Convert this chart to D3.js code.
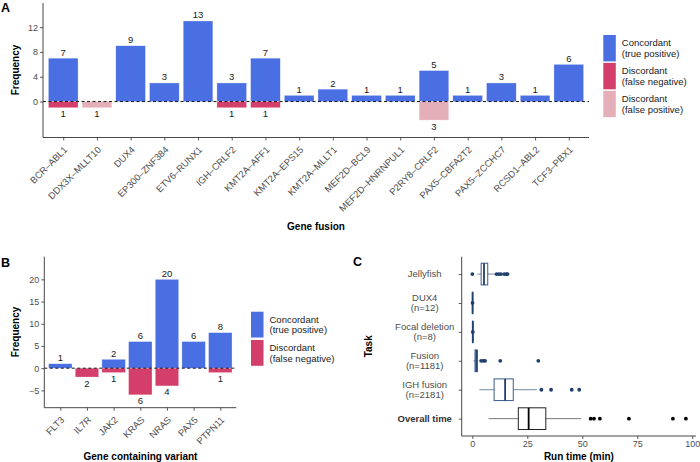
<!DOCTYPE html>
<html><head><meta charset="utf-8">
<script src="https://cdn.jsdelivr.net/npm/d3@7"></script>
<style>
body{margin:0;background:#fff;}
svg{display:block;font-family:"Liberation Sans",Arial,Helvetica,sans-serif;}
</style></head>
<body>
<svg id="chart" width="700" height="462"></svg>
<script>
// ---------- Data ----------
const fusionCats = ["BCR–ABL1","DDX3X–MLLT10","DUX4","EP300–ZNF384","ETV6–RUNX1","IGH–CRLF2","KMT2A–AFF1","KMT2A–EPS15","KMT2A–MLLT1","MEF2D–BCL9","MEF2D–HNRNPUL1","P2RY8–CRLF2","PAX5–CBFA2T2","PAX5–ZCCHC7","RCSD1–ABL2","TCF3–PBX1"];
const fusionTP = [7,0,9,3,13,3,7,1,2,1,1,5,1,3,1,6];
const fusionFN = [1,0,0,0,0,1,1,0,0,0,0,0,0,0,0,0];
const fusionFP = [0,1,0,0,0,0,0,0,0,0,0,3,0,0,0,0];
const fusionTicks = [0,4,8,12];

const variantCats = ["FLT3","IL7R","JAK2","KRAS","NRAS","PAX5","PTPN11"];
const variantTP = [1,0,2,6,20,6,8];
const variantFN = [0,2,1,6,4,0,1];
const variantTicks = [-5,0,5,10,15,20];

const tasks = ["Jellyfish","DUX4\n(n=12)","Focal deletion\n(n=8)","Fusion\n(n=1181)","IGH fusion\n(n=2181)","Overall time"];
const whiskLow  = [2.3, 0.0, 0.1, 0.5, 3.2, 7.4];
const q1        = [4.0, 0.05,0.1, 1.2, 9.9, 20.9];
const medians   = [5.3, 0.1, 0.2, 1.8, 14.9, 25.6];
const q3        = [7.0, 0.2, 0.3, 2.3, 18.6, 33.4];
const whiskHigh = [10.8,0.3, 0.4, 2.7, 29.3, 49.5];
const outliers  = [[0, 11, 12, 13, 14.5, 15.5, 16],[0.1],[0.2],[4.0,5.0,5.8,12.7,30.0],[31.4,35.8,45.2,48.6],[53.8,55.3,58.0,71.2,91.2,97.1]];
const runTicks = [0,25,50,75,100];

const seriesNamesA = [["Concordant","(true positive)"],["Discordant","(false negative)"],["Discordant","(false positive)"]];
const colTP = "#4A6FE3", colFN = "#D33F6A", colFP = "#E5AFBA";
const tickCol = "#4d4d4d", axisCol = "#333";

const svg = d3.select("#chart");

function panelLabel(t,x,y){
  svg.append("text").attr("x",x).attr("y",y).attr("font-size",12.5).attr("font-weight","bold").attr("fill","#000").text(t);
}
function yTitle(t,x,y){
  svg.append("text").attr("transform",`translate(${x},${y}) rotate(-90)`).attr("text-anchor","middle")
    .attr("font-size",10).attr("font-weight","bold").attr("fill","#000").text(t);
}
function xTitle(t,x,y){
  svg.append("text").attr("x",x).attr("y",y).attr("text-anchor","middle")
    .attr("font-size",10).attr("font-weight","bold").attr("fill","#000").text(t);
}
function styleAxis(g){
  g.select(".domain").attr("stroke",axisCol).attr("stroke-width",0.9);
  g.selectAll(".tick line").attr("stroke",axisCol).attr("stroke-width",0.8);
  g.selectAll(".tick text").attr("fill",tickCol).attr("font-size",9).attr("font-family","Liberation Sans, Arial, sans-serif");
}

function barPanel(opts){
  const {cats,tp,neg,negCols,ticks,x0,x1,y0,y1,dom,lab} = opts;
  const x = d3.scalePoint().domain(cats).range([x0,x1]).padding(0.6);
  const bw = x.step()*0.88;
  const y = d3.scaleLinear().domain(dom).range([y1,y0]);
  const g = svg.append("g");
  g.selectAll("rect.tp").data(cats).join("rect")
    .attr("x",d=>x(d)-bw/2).attr("width",bw)
    .attr("y",(d,i)=>y(tp[i])).attr("height",(d,i)=>y(0)-y(tp[i]))
    .attr("fill",colTP).attr("stroke","#fff").attr("stroke-width",0.5).attr("stroke-opacity",0.6);
  neg.forEach((arr,k)=>{
    g.selectAll("rect.n"+k).data(cats).join("rect")
      .attr("x",d=>x(d)-bw/2).attr("width",bw)
      .attr("y",y(0)).attr("height",(d,i)=>y(-arr[i])-y(0))
      .attr("fill",negCols[k]).attr("stroke","#fff").attr("stroke-width",0.5).attr("stroke-opacity",0.6);
  });
  g.selectAll("text.tpl").data(cats).join("text")
    .attr("x",d=>x(d)).attr("y",(d,i)=>y(tp[i])-2.5).attr("text-anchor","middle")
    .attr("font-size",9.5).attr("fill","#1a1a1a").text((d,i)=>tp[i]>0?tp[i]:"");
  neg.forEach((arr,k)=>{
    g.selectAll("text.nl"+k).data(cats).join("text")
      .attr("x",d=>x(d)).attr("y",(d,i)=>y(-arr[i])+9.5).attr("text-anchor","middle")
      .attr("font-size",9.5).attr("fill","#1a1a1a").text((d,i)=>arr[i]>0?arr[i]:"");
  });
  g.append("line").attr("x1",x0).attr("x2",x1).attr("y1",y(0)).attr("y2",y(0))
    .attr("stroke","#000").attr("stroke-width",0.9).attr("stroke-dasharray","3,2.5");
  const ya = svg.append("g").attr("transform",`translate(${x0},0)`)
    .call(d3.axisLeft(y).tickValues(ticks).tickSize(3).tickPadding(2).tickFormat(d=>d<0?"\u2212"+Math.abs(d):d));
  styleAxis(ya);
  const xa = svg.append("g").attr("transform",`translate(0,${y1})`)
    .call(d3.axisBottom(x).tickSize(3).tickFormat(""));
  styleAxis(xa);
  ya.select(".domain").attr("d",`M0,${y0}V${y1}`);
  xa.select(".domain").attr("d",`M${x0},0H${x1}`);
  svg.append("g").selectAll("text").data(cats).join("text")
    .attr("transform",d=>`translate(${x(d)+1.1},${y1+lab}) rotate(-45)`)
    .attr("text-anchor","end").attr("dy","0.55em")
    .attr("font-size",9.4).attr("fill",tickCol).text(d=>d);
  return {x,y};
}

function legend(items,cols,kx,ky,kh,gap){
  items.forEach((lines,i)=>{
    const top = ky + i*(kh+gap);
    svg.append("rect").attr("x",kx).attr("y",top).attr("width",12.5).attr("height",kh).attr("fill",cols[i]);
    lines.forEach((l,j)=>{
      svg.append("text").attr("x",kx+18.5).attr("y",top+kh/2+(j-0.5)*10.6+3.4)
        .attr("font-size",9.5).attr("fill","#1a1a1a").text(l);
    });
  });
}

// ---------- Panel A ----------
panelLabel("A",1,12);
barPanel({cats:fusionCats,tp:fusionTP,neg:[fusionFN,fusionFP],negCols:[colFN,colFP],ticks:fusionTicks,
  x0:43,x1:589,y0:3,y1:137.5,dom:[-5.8,15.9],lab:9.1});
yTitle("Frequency",18.5,70);
xTitle("Gene fusion",316,230);
legend(seriesNamesA,[colTP,colFN,colFP],603.3,35,26.4,1.5);

// ---------- Panel B ----------
panelLabel("B",1,267);
barPanel({cats:variantCats,tp:variantTP,neg:[variantFN],negCols:[colFN],ticks:variantTicks,
  x0:44.3,x1:236.3,y0:256.7,y1:407.7,dom:[-8.9,25.1],lab:9.1});
yTitle("Frequency",18.5,332);
xTitle("Gene containing variant",140.5,460);
legend(seriesNamesA.slice(0,2),[colTP,colFN],251,311.7,25.8,2.5);

// ---------- Panel C ----------
panelLabel("C",353,266);
(function(){
  const x0=461.7,x1=696,y0=256.7,y1=436;
  const x = d3.scaleLinear().domain([-4.84,101.7]).range([x0,x1]);
  const y = d3.scalePoint().domain(tasks).range([y0,y1]).padding(0.6);
  const bh = y.step()*0.75;
  const navy="#1f3f6e", navyBox="#3b5b88", navyW="#7188aa";
  tasks.forEach((t,i)=>{
    const last = i===tasks.length-1;
    const cBox = last?"#222":navyBox, cW = last?"#777":navyW, cMed = last?"#000":navy, cPt = last?"#000":navy;
    const cy = y(t);
    const g = svg.append("g");
    g.append("line").attr("x1",x(whiskLow[i])).attr("x2",x(q1[i])).attr("y1",cy).attr("y2",cy).attr("stroke",cW).attr("stroke-width",1);
    g.append("line").attr("x1",x(q3[i])).attr("x2",x(whiskHigh[i])).attr("y1",cy).attr("y2",cy).attr("stroke",cW).attr("stroke-width",1);
    g.append("rect").attr("x",x(q1[i])).attr("width",Math.max(0.1,x(q3[i])-x(q1[i])))
      .attr("y",cy-bh/2).attr("height",bh).attr("fill","#fff").attr("stroke",cBox).attr("stroke-width",1);
    g.append("line").attr("x1",x(medians[i])).attr("x2",x(medians[i])).attr("y1",cy-bh/2).attr("y2",cy+bh/2)
      .attr("stroke",cMed).attr("stroke-width",1.8);
    g.selectAll("circle").data(outliers[i]).join("circle")
      .attr("cx",d=>x(d)).attr("cy",cy).attr("r",1.9).attr("fill",cPt);
  });
  const xa = svg.append("g").attr("transform",`translate(0,${y1})`)
    .call(d3.axisBottom(x).tickValues(runTicks).tickSize(3).tickPadding(1.5));
  styleAxis(xa);
  xa.select(".domain").attr("d",`M${x0},0H${x1}`);
  const ya = svg.append("g").attr("transform",`translate(${x0},0)`)
    .call(d3.axisLeft(y).tickSize(3).tickFormat(""));
  styleAxis(ya);
  ya.select(".domain").attr("d",`M0,${y0}V${y1}`);
  tasks.forEach((t,i)=>{
    const lines = t.split("\n");
    const last = i===tasks.length-1;
    lines.forEach((l,j)=>{
      svg.append("text").attr("x",424.7).attr("y",y(t)+(j-(lines.length-1)/2)*10.2+3.3)
        .attr("text-anchor","middle").attr("font-size",9.5)
        .attr("font-weight",last?"bold":"normal").attr("fill",last?"#333":tickCol).text(l);
    });
  });
  yTitle("Task",371.5,346.3);
  xTitle("Run time (min)",578.9,460);
})();
</script>
</body></html>
